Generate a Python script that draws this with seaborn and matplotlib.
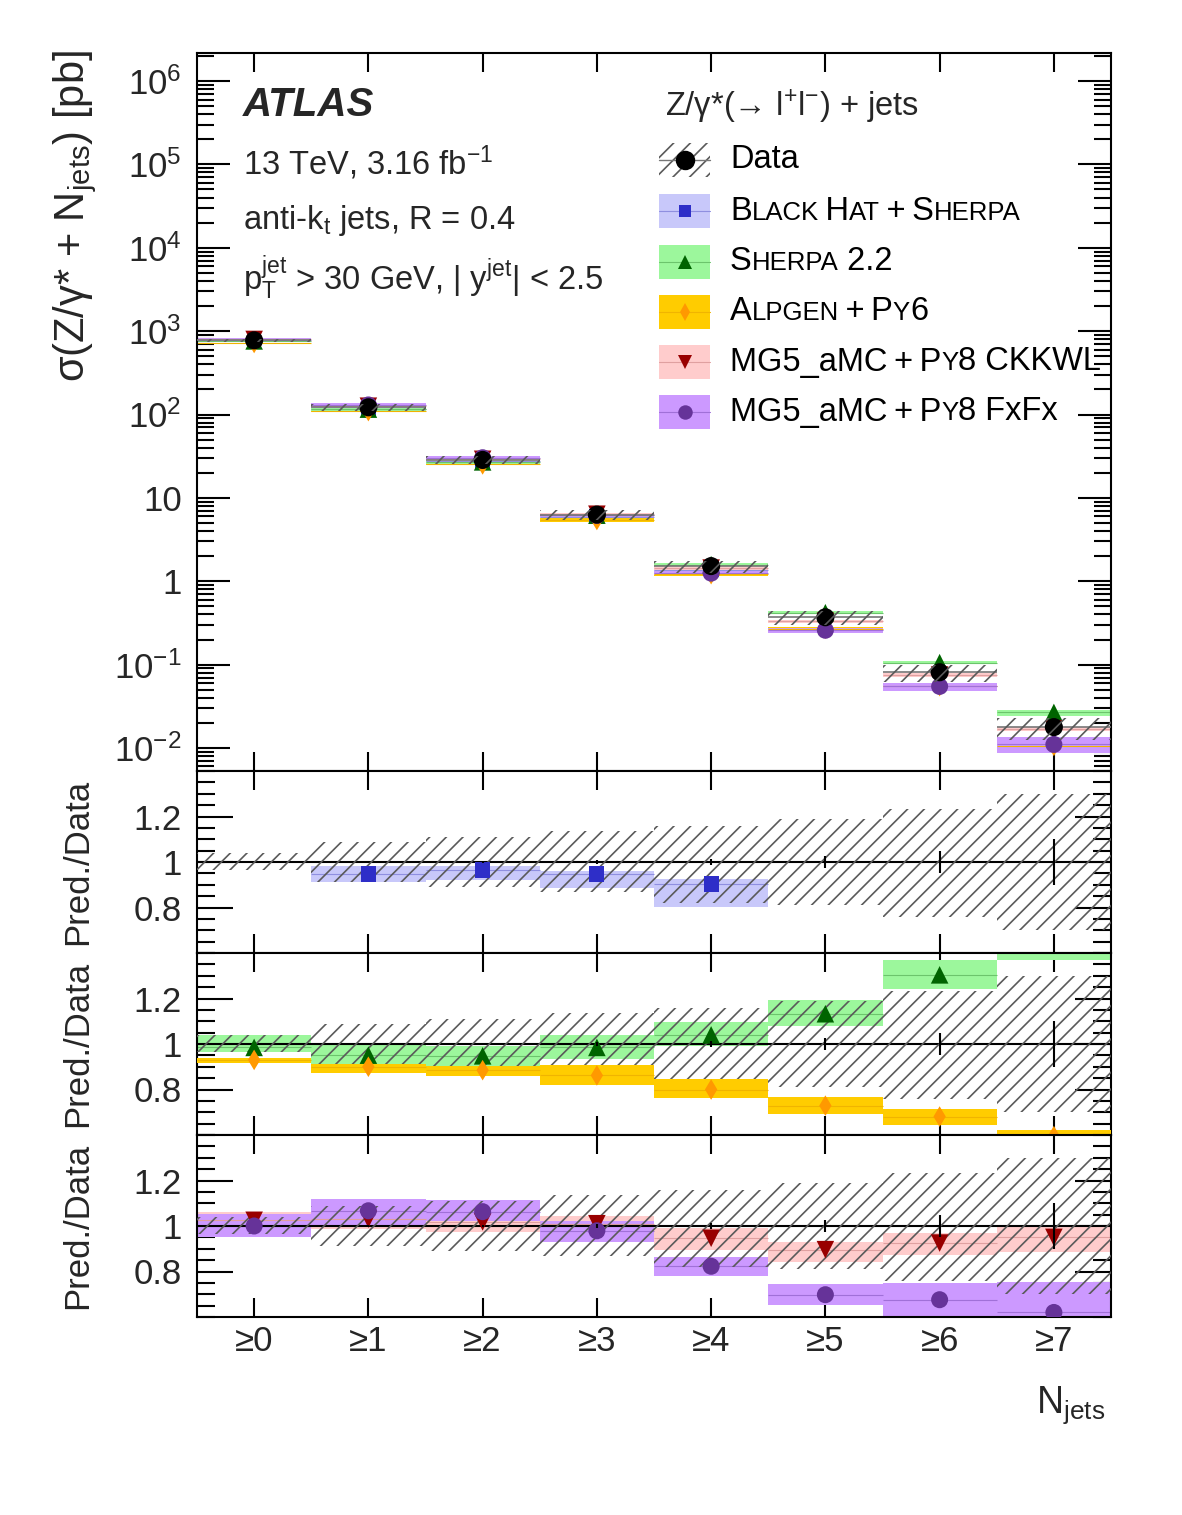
import numpy as np
import seaborn as sns
import matplotlib.pyplot as plt
from matplotlib.patches import Rectangle
from matplotlib.lines import Line2D
from matplotlib.offsetbox import TextArea, HPacker, AnnotationBbox
from matplotlib.ticker import FixedLocator, FixedFormatter, MultipleLocator, LogLocator, NullFormatter

nan = np.nan

# --- values ---
nj_labels = ["≥0", "≥1", "≥2", "≥3", "≥4", "≥5", "≥6", "≥7"]
data_xs = [775, 122, 28.5, 6.3, 1.52, 0.37, 0.081, 0.0178]          # pb
data_stat = [0.002, 0.003, 0.005, 0.008, 0.013, 0.025, 0.05, 0.10]  # relative
data_unc_lo = [0.035, 0.088, 0.11, 0.13, 0.18, 0.19, 0.24, 0.30]    # relative
data_unc_hi = [0.04, 0.088, 0.11, 0.135, 0.16, 0.19, 0.235, 0.30]

bh_ratio = [nan, 0.947, 0.965, 0.947, 0.903, nan, nan, nan]
bh_lo = [nan, 0.910, 0.922, 0.884, 0.804, nan, nan, nan]
bh_hi = [nan, 0.983, 0.984, 0.962, 0.925, nan, nan, nan]

sherpa_ratio = [0.985, 0.951, 0.948, 0.985, 1.04, 1.133, 1.304, 1.50]
sherpa_lo = [0.963, 0.911, 0.904, 0.936, 0.993, 1.079, 1.241, 1.37]
sherpa_hi = [1.04, 0.995, 0.993, 1.04, 1.096, 1.193, 1.37, 1.62]

alpgen_ratio = [0.93, 0.90, 0.885, 0.862, 0.80, 0.729, 0.681, 0.595]
alpgen_lo = [0.916, 0.871, 0.859, 0.818, 0.763, 0.693, 0.644, 0.565]
alpgen_hi = [0.94, 0.911, 0.904, 0.907, 0.844, 0.768, 0.716, 0.622]

ckkwl_ratio = [1.025, 1.03, 1.018, 1.01, 0.946, 0.896, 0.925, 0.95]
ckkwl_lo = [0.99, 0.987, 0.975, 0.987, 0.896, 0.843, 0.872, 0.887]
ckkwl_hi = [1.06, 1.067, 1.06, 1.043, 0.99, 0.931, 0.97, 0.999]

fxfx_ratio = [1.0, 1.067, 1.063, 0.979, 0.823, 0.698, 0.676, 0.62]
fxfx_lo = [0.953, 0.994, 1.023, 0.931, 0.779, 0.653, 0.604, 0.49]
fxfx_hi = [1.053, 1.119, 1.114, 1.023, 0.864, 0.744, 0.749, 0.752]

log_ticks = [1e-2, 1e-1, 1, 10, 1e2, 1e3, 1e4, 1e5, 1e6]
log_tick_labels = ["10$^{-2}$", "10$^{-1}$", "1", "10", "10$^{2}$",
                   "10$^{3}$", "10$^{4}$", "10$^{5}$", "10$^{6}$"]
ratio_ticks = [0.8, 1.0, 1.2]
ratio_tick_labels = ["0.8", "1", "1.2"]

legend_header = "Z/γ*(→ l$^{+}$l$^{-}$) + jets"
# (text piece, small caps?)
legend_texts = [
    [("Data", False)],
    [("B", False), ("LACK", True), ("\u2009H", False), ("AT", True), ("\u2009+\u2009S", False), ("HERPA", True)],
    [("S", False), ("HERPA", True), (" 2.2", False)],
    [("A", False), ("LPGEN", True), ("\u2009+\u2009P", False), ("Y", True), ("6", False)],
    [("MG5_aMC\u2009+\u2009P", False), ("Y", True), ("8 CKKWL", False)],
    [("MG5_aMC\u2009+\u2009P", False), ("Y", True), ("8 FxFx", False)],
]

# --- styles ---
models = {
    "bh": dict(r=bh_ratio, lo=bh_lo, hi=bh_hi, band="#c8c8fa", line="#8f8fe0", mc="#2e2ec8", m="s", s=120),
    "sherpa": dict(r=sherpa_ratio, lo=sherpa_lo, hi=sherpa_hi, band="#9cf79c", line="#6cc46c", mc="#006400", m="^", s=160),
    "alpgen": dict(r=alpgen_ratio, lo=alpgen_lo, hi=alpgen_hi, band="#ffcc00", line="#f0b400", mc="#ff9900", m="d", s=110),
    "ckkwl": dict(r=ckkwl_ratio, lo=ckkwl_lo, hi=ckkwl_hi, band="#ffcccc", line="#e0a0a0", mc="#990000", m="v", s=160),
    "fxfx": dict(r=fxfx_ratio, lo=fxfx_lo, hi=fxfx_hi, band="#cc99ff", line="#a070d8", mc="#663399", m="o", s=150),
}
hatch_col = "#5a5a5a"

sns.set_theme(style="ticks")
plt.rcParams["font.family"] = ["Liberation Sans", "DejaVu Sans"]
plt.rcParams["mathtext.fontset"] = "custom"
plt.rcParams["mathtext.rm"] = "Liberation Sans"
plt.rcParams["mathtext.it"] = "Liberation Sans:italic"
plt.rcParams["mathtext.bf"] = "Liberation Sans:bold"
plt.rcParams["hatch.linewidth"] = 1.2

W, H = 1182, 1515
fig = plt.figure(figsize=(W / 100, H / 100), dpi=100)


def px_rect(x0, y0, x1, y1):
    return [x0 / W, 1 - y1 / H, (x1 - x0) / W, (y1 - y0) / H]


ax_main = fig.add_axes(px_rect(197, 53, 1111, 771))
ax_r1 = fig.add_axes(px_rect(197, 771, 1111, 953))
ax_r2 = fig.add_axes(px_rect(197, 953, 1111, 1135))
ax_r3 = fig.add_axes(px_rect(197, 1135, 1111, 1317))

xpos = np.arange(len(nj_labels))
data = np.array(data_xs)


def draw_band(ax, lo, hi, color, line, center, z):
    lo = np.asarray(lo, float)
    hi = np.asarray(hi, float)
    ok = np.isfinite(lo)
    ax.bar(xpos[ok], hi[ok] - lo[ok], bottom=lo[ok], width=1.0, color=color,
           linewidth=0, zorder=z)
    c = np.asarray(center, float)
    ax.hlines(c[ok], xpos[ok] - 0.5, xpos[ok] + 0.5, colors=line, lw=0.8, zorder=z + 0.1)


def draw_markers(ax, yvals, spec, z=5):
    sns.scatterplot(x=xpos, y=np.asarray(yvals, float), ax=ax, marker=spec["m"], s=spec["s"],
                    color=spec["mc"], edgecolor="none", linewidth=0, zorder=z, legend=False)


def draw_data_hatch(ax, lo, hi, z=4):
    ax.bar(xpos, hi - lo, bottom=lo, width=1.0, fill=False, hatch="//",
           edgecolor=hatch_col, linewidth=0, zorder=z)


# --- main panel ---
for key in ["bh", "sherpa", "alpgen", "ckkwl", "fxfx"]:
    sp = models[key]
    r = np.asarray(sp["r"], float)
    draw_band(ax_main, data * np.asarray(sp["lo"], float), data * np.asarray(sp["hi"], float),
              sp["band"], sp["line"], data * r, 2)
for key in ["bh", "sherpa", "alpgen", "ckkwl", "fxfx"]:
    sp = models[key]
    draw_markers(ax_main, data * np.asarray(sp["r"], float), sp)
ax_main.hlines(data, xpos - 0.5, xpos + 0.5, colors="#777777", lw=1.2, zorder=3)
sns.scatterplot(x=xpos, y=data, ax=ax_main, marker="o", s=170, color="black",
                edgecolor="none", linewidth=0, zorder=6, legend=False)
draw_data_hatch(ax_main, data * (1 - np.array(data_unc_lo)), data * (1 + np.array(data_unc_hi)), z=7)
ax_main.set_yscale("log")
ax_main.set_ylim(10 ** -2.276, 10 ** 6.336)

# --- ratio panels ---
ratio_layout = [(ax_r1, ["bh"]), (ax_r2, ["sherpa", "alpgen"]), (ax_r3, ["ckkwl", "fxfx"])]
for ax, keys in ratio_layout:
    for key in keys:
        sp = models[key]
        z = 2 if key != "alpgen" else 4.5
        draw_band(ax, sp["lo"], sp["hi"], sp["band"], sp["line"], sp["r"], z)
    draw_data_hatch(ax, 1 - np.array(data_unc_lo), 1 + np.array(data_unc_hi), z=4)
    ax.axhline(1.0, color="black", lw=1.5, zorder=3)
    ax.errorbar(xpos, np.ones(len(xpos)), yerr=np.array(data_stat), fmt="none",
                ecolor="black", elinewidth=1.5, capsize=0, zorder=5.5)
    for key in keys:
        draw_markers(ax, models[key]["r"], models[key])
    ax.set_ylim(0.6, 1.4)
    ax.yaxis.set_major_locator(FixedLocator(ratio_ticks))
    ax.yaxis.set_major_formatter(FixedFormatter(ratio_tick_labels))
    ax.yaxis.set_minor_locator(MultipleLocator(0.05))

ax_main.yaxis.set_major_locator(FixedLocator(log_ticks))
ax_main.yaxis.set_major_formatter(FixedFormatter(log_tick_labels))
ax_main.yaxis.set_minor_locator(LogLocator(base=10, subs=np.arange(2, 10)))
ax_main.yaxis.set_minor_formatter(NullFormatter())

for ax in [ax_main, ax_r1, ax_r2, ax_r3]:
    ax.set_xlim(-0.5, 7.5)
    ax.set_xticks(xpos)
    ax.set_xlabel("")
    ax.set_ylabel("")
    ax.set_facecolor("white")
    big = 24 if ax is ax_main else 26
    ax.tick_params(axis="both", which="both", direction="in", top=True, right=True,
                   width=1.5, color="black")
    ax.tick_params(axis="y", which="major", length=big, labelsize=25, pad=11)
    ax.tick_params(axis="y", which="minor", length=big / 2)
    ax.tick_params(axis="x", which="major", length=14, labelsize=25, pad=6)
    ax.tick_params(axis="x", which="minor", length=0)
    for s in ax.spines.values():
        s.set_visible(True)
        s.set_linewidth(1.5)
        s.set_color("black")
    if ax is not ax_r3:
        ax.tick_params(axis="x", labelbottom=False)
ax_r3.set_xticklabels(nj_labels)

# --- axis titles ---
fig.text(75 / W, 1 - 50 / H, "σ(Z/γ* + N$_{\\mathrm{jets}}$) [pb]", rotation=90,
         ha="center", va="top", fontsize=30)
for ax, (y0, y1) in zip([ax_r1, ax_r2, ax_r3], [(771, 953), (953, 1135), (1135, 1317)]):
    fig.text(78 / W, 1 - (y0 + y1) / 2 / H, "Pred./Data", rotation=90,
             ha="center", va="center", fontsize=25)
fig.text(1105 / W, 1 - 1405 / H, "N$_{\\mathrm{jets}}$", ha="right", va="center", fontsize=27)

# --- labels ---
fig.text(243 / W, 1 - 105 / H, "ATLAS", fontsize=29, fontweight="bold", fontstyle="italic",
         va="center")
fig.text(243 / W, 1 - 163 / H, "13 TeV, 3.16 fb$^{-1}$", fontsize=23.5, va="center")
fig.text(243 / W, 1 - 221 / H, "anti-k$_{\\mathrm{t}}$ jets, R = 0.4", fontsize=23.5, va="center")
fig.text(243 / W, 1 - 278 / H,
         "p$_{\\mathrm{T}}^{\\mathrm{jet}}$ > 30 GeV, | y$^{\\mathrm{jet}}$| < 2.5",
         fontsize=23.5, va="center")

# --- legend ---
fig.text(665 / W, 1 - 107 / H, legend_header, fontsize=23.5, va="center")
row_y = [160, 211, 262, 312, 362, 412]
row_keys = [None, "bh", "sherpa", "alpgen", "ckkwl", "fxfx"]
bx0, bx1, bh_px = 659, 710, 34
for yy, key, pieces in zip(row_y, row_keys, legend_texts):
    yf = 1 - yy / H
    rect = dict(xy=(bx0 / W, yf - bh_px / 2 / H), width=(bx1 - bx0) / W, height=bh_px / H,
                transform=fig.transFigure)
    if key is None:
        fig.add_artist(Rectangle(fill=False, hatch="//", edgecolor=hatch_col, linewidth=0, **rect))
        fig.add_artist(Line2D([bx0 / W, bx1 / W], [yf, yf], color="#777777", lw=1.0,
                              transform=fig.transFigure))
        fig.add_artist(Line2D([(bx0 + bx1) / 2 / W], [yf], marker="o", markersize=14,
                              color="black", markeredgewidth=0, transform=fig.transFigure))
    else:
        sp = models[key]
        fig.add_artist(Rectangle(facecolor=sp["band"], linewidth=0, **rect))
        fig.add_artist(Line2D([bx0 / W, bx1 / W], [yf, yf], color=sp["line"], lw=0.8,
                              transform=fig.transFigure))
        fig.add_artist(Line2D([(bx0 + bx1) / 2 / W], [yf], marker=sp["m"],
                              markersize=np.sqrt(sp["s"]) * 0.85, color=sp["mc"],
                              markeredgewidth=0, transform=fig.transFigure))
    boxes = [TextArea(t, textprops=dict(size=18.5 if small else 23.5, color="black"))
             for t, small in pieces]
    pack = HPacker(children=boxes, align="baseline", pad=0, sep=0)
    ab = AnnotationBbox(pack, (730 / W, yf), xycoords="figure fraction",
                        box_alignment=(0, 0.5), frameon=False, pad=0)
    fig.add_artist(ab)

fig.savefig("out.png", dpi=100)
